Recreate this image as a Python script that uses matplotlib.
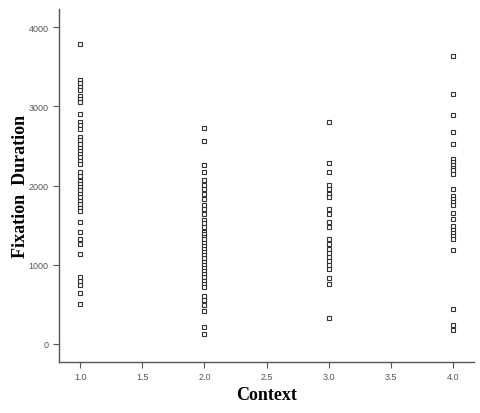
import matplotlib.pyplot as plt
import numpy as np

# fixation durations per context
context_1 = [3790, 3330, 3290, 3250, 3210, 3130, 3090, 3050, 2900, 2800, 2760, 2710,
             2610, 2570, 2520, 2480, 2440, 2400, 2360, 2310, 2270, 2170, 2120, 2060,
             2020, 1980, 1940, 1890, 1850, 1810, 1770, 1720, 1680, 1540, 1410, 1320,
             1260, 1140, 840, 800, 740, 640, 500]
context_2 = [2730, 2560, 2260, 2170, 2070, 2010, 1950, 1890, 1830, 1760, 1700, 1640,
             1570, 1530, 1470, 1410, 1390, 1350, 1320, 1280, 1240, 1200, 1160, 1120,
             1080, 1040, 1000, 960, 920, 880, 840, 800, 760, 720, 610, 550, 490, 420,
             210, 130]
context_3 = [2800, 2290, 2170, 2010, 1960, 1890, 1850, 1700, 1640, 1540, 1470, 1320,
             1260, 1200, 1150, 1100, 1050, 1000, 950, 830, 750, 330]
context_4 = [3640, 3160, 2890, 2670, 2530, 2340, 2300, 2260, 2220, 2190, 2140, 1960,
             1870, 1830, 1790, 1750, 1650, 1580, 1490, 1440, 1400, 1360, 1330, 1180,
             440, 240, 170]

groups = [context_1, context_2, context_3, context_4]
x_ticks = [1.0, 1.5, 2.0, 2.5, 3.0, 3.5, 4.0]
y_ticks = [0, 1000, 2000, 3000, 4000]

fig = plt.figure(figsize=(4.8, 4.14), dpi=100)
ax = fig.add_axes([0.123, 0.123, 0.865, 0.853])

for i, vals in enumerate(groups):
    ax.plot(np.full(len(vals), i + 1.0), vals, ls="none", marker="s", ms=3.5,
            mfc="white", mec="#333333", mew=0.8)

ax.set_xlim(0.83, 4.17)
ax.set_ylim(-230, 4230)
ax.set_xticks(x_ticks)
ax.set_xticklabels([f"{t:.1f}" for t in x_ticks])
ax.set_yticks(y_ticks)

for side in ["top", "right"]:
    ax.spines[side].set_visible(False)
for side in ["left", "bottom"]:
    ax.spines[side].set_color("#555555")
    ax.spines[side].set_linewidth(1.0)

ax.tick_params(direction="out", length=4, width=0.8, colors="#555555",
               labelsize=6.5, labelcolor="#555555")
for lab in ax.get_xticklabels() + ax.get_yticklabels():
    lab.set_family("Liberation Sans")

ax.set_xlabel("Context", family="Liberation Serif", fontweight="bold",
              fontsize=13, labelpad=3)
ax.set_ylabel("Fixation  Duration", family="Liberation Serif", fontweight="bold",
              fontsize=13, labelpad=0)

fig.savefig("out.png", dpi=100)
